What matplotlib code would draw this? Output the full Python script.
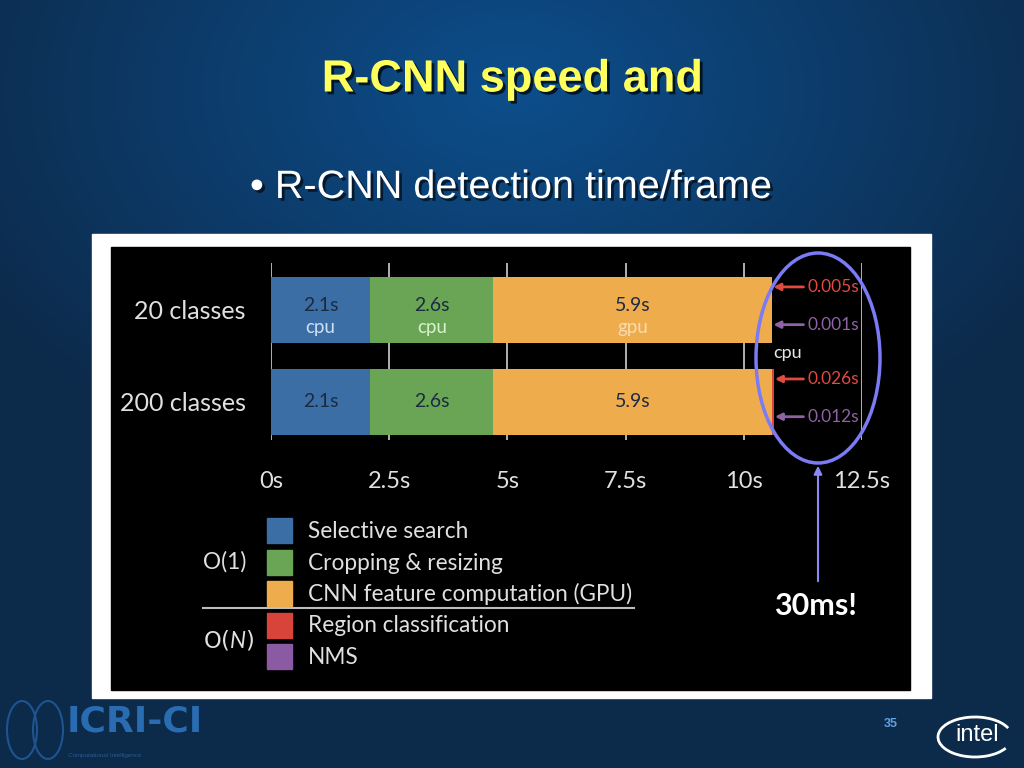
import numpy as np
import matplotlib
matplotlib.use("Agg")
import matplotlib.pyplot as plt
from matplotlib.patches import Rectangle, Ellipse, Arc
import matplotlib.patheffects as pe

plt.rcParams["mathtext.fontset"] = "custom"
plt.rcParams["mathtext.rm"] = "Lato"
plt.rcParams["mathtext.it"] = "Lato:italic"

# data
categories = ["20 classes", "200 classes"]
stages = ["Selective search", "Cropping & resizing", "CNN feature computation (GPU)",
          "Region classification", "NMS"]
stage_colors = ["#3c6ea6", "#6aa556", "#eeac4c", "#d8443a", "#8a5aa2"]
times = {
    "20 classes": [2.1, 2.6, 5.9, 0.005, 0.001],
    "200 classes": [2.1, 2.6, 5.9, 0.026, 0.012],
}
bar_labels = ["2.1s", "2.6s", "5.9s"]
device_labels = ["cpu", "cpu", "gpu"]
device_colors = ["#cfe0f5", "#d8f2cc", "#f8dcae"]
xticks = [0, 2.5, 5, 7.5, 10, 12.5]
xtick_labels = ["0s", "2.5s", "5s", "7.5s", "10s", "12.5s"]

W, H = 1024, 768
fig = plt.figure(figsize=(10.24, 7.68), dpi=100)

# slide background
bg = fig.add_axes([0, 0, 1, 1], zorder=0)
bg.set_xlim(0, W)
bg.set_ylim(H, 0)
bg.axis("off")
yy, xx = np.mgrid[0:H, 0:W]
r = np.sqrt(((xx - 512) / 620.0) ** 2 + ((yy - 90) / 420.0) ** 2)
r = np.clip(r, 0, 1)
c0 = np.array([0x0c, 0x4e, 0x8c]) / 255.0
c1 = np.array([0x0c, 0x2a, 0x4a]) / 255.0
img = c0[None, None, :] * (1 - r[..., None]) + c1[None, None, :] * r[..., None]
bg.imshow(img, extent=[0, W, H, 0], aspect="auto")
bg.add_patch(Rectangle((92, 234), 839, 464, color="white"))
bg.add_patch(Rectangle((111, 247), 799, 443, color="black"))

bg.text(512, 80, "R-CNN speed and", ha="center", va="center", fontsize=32.5,
        fontweight="bold", color="#ffff5e", family="Liberation Sans",
        path_effects=[pe.withSimplePatchShadow(offset=(2, -2), shadow_rgbFace="black", alpha=0.7)])
bg.text(250, 187, "\u2022 R-CNN detection time/frame", ha="left", va="center", fontsize=28.5,
        color="white", family="Liberation Sans",
        path_effects=[pe.withSimplePatchShadow(offset=(2, -2), shadow_rgbFace="black", alpha=0.6)])

# chart
x0, x1 = 271, 862
y0, y1 = 263, 440
ax = fig.add_axes([x0 / W, 1 - y1 / H, (x1 - x0) / W, (y1 - y0) / H], zorder=1)
ax.set_facecolor("none")
ax.set_xlim(0, 12.5)
ax.set_ylim(1.413, -0.51)
ypos = np.arange(len(categories))
for i, cat in enumerate(categories):
    left = 0
    for j, v in enumerate(times[cat]):
        ax.barh(ypos[i], v, left=left, height=0.72, color=stage_colors[j], zorder=2)
        if j < 3:
            cx = left + v / 2
            if i == 0:
                ax.text(cx, -0.05, bar_labels[j], ha="center", va="center", fontsize=14,
                        color="#1c2a40", family="Lato", zorder=3)
                ax.text(cx, 0.19, device_labels[j], ha="center", va="center", fontsize=13.5,
                        color=device_colors[j], family="Lato", zorder=3)
            else:
                ax.text(cx, ypos[i], bar_labels[j], ha="center", va="center", fontsize=14,
                        color="#1c2a40", family="Lato", zorder=3)
        left += v

# small timing callouts
ends = {cat: sum(times[cat]) for cat in categories}
offs = [(-0.25, 3, "#e04a40"), (0.16, 4, "#8f62a4")]
for i, cat in enumerate(categories):
    for dy, k, col in offs:
        ax.annotate("%gs" % times[cat][k], xy=(ends[cat] + 0.02, ypos[i] + dy),
                    xytext=(11.35, ypos[i] + dy), ha="left", va="center", fontsize=12.5,
                    color=col, family="Lato", annotation_clip=False,
                    arrowprops=dict(arrowstyle="-|>", color=col, lw=2, mutation_scale=10,
                                    shrinkA=1, shrinkB=0))
ax.text(10.63, 0.47, "cpu", ha="left", va="center", fontsize=13, color="#e8e8e8", family="Lato")

ax.set_xticks(xticks)
ax.set_xticklabels(xtick_labels, fontsize=17, color="#e0e0e0", family="Lato")
ax.set_yticks(ypos)
ax.set_yticklabels(categories, fontsize=18, color="#e0e0e0", family="Lato")
ax.tick_params(length=0, axis="x", pad=22)
ax.tick_params(length=0, axis="y", pad=18)
ax.grid(axis="x", color="#cfcfcf", lw=1.2, zorder=0)
ax.set_axisbelow(True)
for s in ax.spines.values():
    s.set_visible(False)

# overlay for ellipse, legend etc.
top = fig.add_axes([0, 0, 1, 1], zorder=5)
top.set_xlim(0, W)
top.set_ylim(H, 0)
top.axis("off")
top.patch.set_alpha(0)
top.add_patch(Ellipse((818, 358), 124, 210, fill=False, ec="#7b7bf5", lw=2.5))
top.annotate("", xy=(818, 463), xytext=(818, 584),
             arrowprops=dict(arrowstyle="-|>", color="#8a8af5", lw=1.5, mutation_scale=12))
top.text(815, 606, "30ms!", ha="center", va="center", fontsize=22, fontweight="bold",
         color="white", family="Lato")

# legend
leg_y = [530, 562, 593, 625, 656]
for yc, lab, col in zip(leg_y, stages, stage_colors):
    top.add_patch(Rectangle((267, yc - 12.5), 25, 25, color=col))
    top.text(308, yc + 1, lab, ha="left", va="center", fontsize=16.3, color="#e0e0e0", family="Lato")
top.plot([203, 634], [608, 608], color="#bdbdbd", lw=1.5)
top.text(203, 562, "O(1)", ha="left", va="center", fontsize=16.3, color="#e0e0e0", family="Lato")
top.text(203, 640, r"O($\mathit{N}$)", ha="left", va="center", fontsize=16.3, color="#e0e0e0")

# footer
for dx in (-13, 13):
    top.add_patch(Ellipse((35 + dx, 730), 30, 58, fill=False, ec="#1f5490", lw=1.5))
top.text(67, 721, "ICRI-CI", ha="left", va="center", fontsize=26, color="#2a6cb2",
         fontweight="bold", family="Liberation Sans Narrow")
top.text(68, 755, "Computational Intelligence", ha="left", va="center", fontsize=4.5,
         color="#2a5a90", family="Liberation Sans")
top.text(891, 724, "35", ha="center", va="center", fontsize=9, fontweight="bold",
         color="#5fa2e2", family="Liberation Sans")
top.text(977, 735, "intel", ha="center", va="center", fontsize=17, color="white",
         family="Liberation Sans")
top.add_patch(Arc((975, 737), 74, 40, theta1=20, theta2=345, ec="white", lw=2))

fig.savefig("out.png", dpi=100)
